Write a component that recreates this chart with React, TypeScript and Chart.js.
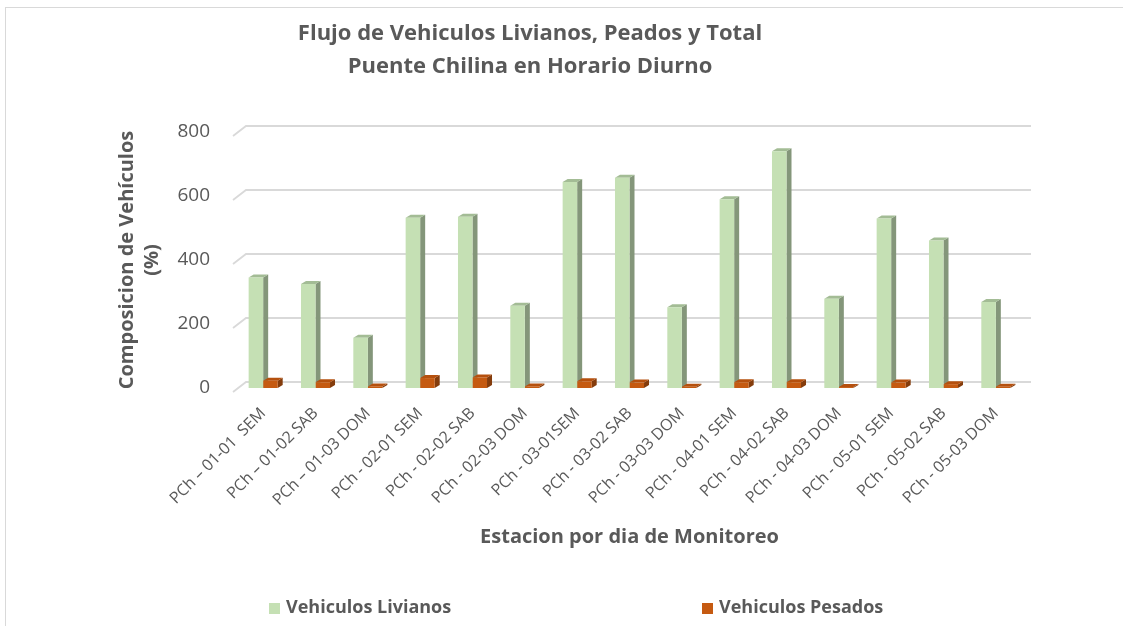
import { useEffect, useRef } from "react";
import { Chart, registerables } from "chart.js";

Chart.register(...registerables);

const categories = [
  "PCh – 01-01  SEM",
  "PCh – 01-02 SAB",
  "PCh – 01-03 DOM",
  "PCh - 02-01 SEM",
  "PCh - 02-02 SAB",
  "PCh - 02-03 DOM",
  "PCh - 03-01SEM",
  "PCh - 03-02 SAB",
  "PCh - 03-03 DOM",
  "PCh - 04-01 SEM",
  "PCh - 04-02 SAB",
  "PCh - 04-03 DOM",
  "PCh - 05-01 SEM",
  "PCh - 05-02 SAB",
  "PCh - 05-03 DOM",
];

const livianos = [345, 325, 157, 532, 535, 257, 644, 657, 252, 590, 740, 279, 530, 461, 269];
const pesados = [23, 18, 5, 31, 33, 5, 21, 17, 4, 18, 18, 3, 17, 12, 4];

const yMin = 0;
const yMax = 800;
const yStep = 200;

const seriesNames = ["Vehiculos Livianos", "Vehiculos Pesados"];
const titleLines = ["Flujo de Vehiculos Livianos, Peados y Total", "Puente Chilina en Horario Diurno"];
const yTitle = ["Composicion de Vehículos", "(%)"];
const xTitle = "Estacion por dia de Monitoreo";

const TEXT = "#595959";
const FONT = "'Open Sans', sans-serif";
const DX = 5;
const DY = 3;

const threeD = {
  id: "threeD",
  beforeDatasetsDraw(chart: any) {
    const { ctx, chartArea, scales } = chart;
    const ys = scales.y;
    ctx.save();
    ctx.strokeStyle = "#d9d9d9";
    ctx.lineWidth = 1.8;
    ys.ticks.forEach((t: any) => {
      const yf = ys.getPixelForValue(t.value);
      ctx.beginPath();
      ctx.moveTo(chartArea.left - 4, yf + 4);
      ctx.lineTo(chartArea.left + 9, yf - 6);
      ctx.lineTo(chartArea.right + 9, yf - 6);
      ctx.stroke();
    });
    chart.data.datasets.forEach((ds: any, i: number) => {
      const meta = chart.getDatasetMeta(i);
      meta.data.forEach((el: any) => {
        const p = el.getProps(["x", "y", "base", "width"], true);
        const l = p.x - p.width / 2;
        const r = p.x + p.width / 2;
        ctx.fillStyle = ds.sideColor;
        ctx.beginPath();
        ctx.moveTo(r, p.y);
        ctx.lineTo(r + DX, p.y - DY);
        ctx.lineTo(r + DX, p.base - DY);
        ctx.lineTo(r, p.base);
        ctx.closePath();
        ctx.fill();
        ctx.fillStyle = ds.topColor;
        ctx.beginPath();
        ctx.moveTo(l, p.y);
        ctx.lineTo(l + DX, p.y - DY);
        ctx.lineTo(r + DX, p.y - DY);
        ctx.lineTo(r, p.y);
        ctx.closePath();
        ctx.fill();
      });
    });
    ctx.restore();
  },
  afterDraw(chart: any) {
    const { ctx } = chart;
    ctx.save();
    ctx.fillStyle = TEXT;
    ctx.textAlign = "center";
    ctx.textBaseline = "alphabetic";
    ctx.font = `bold 22px ${FONT}`;
    ctx.fillText(titleLines[0], 530, 40);
    ctx.fillText(titleLines[1], 530, 73);
    const legendX = [269, 702];
    ctx.textAlign = "left";
    ctx.font = `bold 18px ${FONT}`;
    chart.data.datasets.forEach((ds: any, i: number) => {
      ctx.fillStyle = ds.backgroundColor;
      ctx.fillRect(legendX[i], 603, 11, 11);
      ctx.fillStyle = TEXT;
      ctx.fillText(ds.label, legendX[i] + 17, 613);
    });
    ctx.restore();
  },
};

export default function App() {
  const ref = useRef<HTMLCanvasElement>(null);

  useEffect(() => {
    if (!ref.current) return;
    const chart = new Chart(ref.current, {
      type: "bar",
      data: {
        labels: categories,
        datasets: [
          {
            label: seriesNames[0],
            data: livianos,
            backgroundColor: "#c5e0b4",
            sideColor: "#84967a",
            topColor: "#a3bc95",
            borderWidth: 0,
            categoryPercentage: 0.555,
            barPercentage: 1,
          } as any,
          {
            label: seriesNames[1],
            data: pesados,
            backgroundColor: "#c55a11",
            sideColor: "#843c0c",
            topColor: "#b5500e",
            borderWidth: 0,
            categoryPercentage: 0.555,
            barPercentage: 1,
          } as any,
        ],
      },
      options: {
        responsive: false,
        animation: false,
        layout: { padding: { left: 0, right: 101, top: 132, bottom: 0 } },
        plugins: {
          legend: { display: false },
          title: { display: false },
          tooltip: { enabled: false },
        },
        scales: {
          x: {
            type: "category",
            grid: { display: false, drawTicks: false },
            border: { display: false },
            ticks: {
              color: TEXT,
              font: { size: 16, family: FONT },
              minRotation: 45,
              maxRotation: 45,
              autoSkip: false,
              padding: 16,
            },
            title: {
              display: true,
              text: xTitle,
              color: TEXT,
              font: { size: 20, weight: "bold", family: FONT, lineHeight: 1.2 },
              padding: { top: 0, bottom: 77 },
            },
            afterFit: (s: any) => {
              s.height = 238;
            },
          },
          y: {
            min: yMin,
            max: yMax,
            grid: { display: false, drawTicks: false },
            border: { display: false },
            ticks: {
              stepSize: yStep,
              color: TEXT,
              font: { size: 19, family: FONT },
              padding: 27,
            },
            title: {
              display: true,
              text: yTitle,
              color: TEXT,
              font: { size: 20, weight: "bold", family: FONT, lineHeight: "25px" },
              padding: { top: 115, bottom: 0 },
            },
            afterFit: (s: any) => {
              s.width = 237;
            },
          },
        },
      } as any,
      plugins: [threeD],
    });
    return () => chart.destroy();
  }, []);

  return (
    <div
      style={{
        position: "fixed",
        left: 0,
        top: 0,
        width: 1123,
        height: 626,
        background: "#ffffff",
        overflow: "hidden",
      }}
    >
      <div
        style={{
          position: "absolute",
          left: 5,
          top: 7,
          width: 1300,
          height: 800,
          border: "1px solid #d9d9d9",
          boxSizing: "border-box",
        }}
      />
      <canvas
        ref={ref}
        width={1123}
        height={626}
        style={{ position: "absolute", left: 0, top: 0, display: "block" }}
      />
    </div>
  );
}
